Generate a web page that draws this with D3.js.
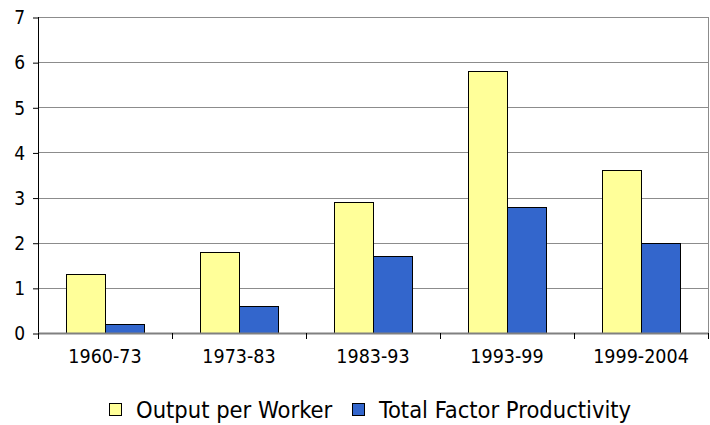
<html>
<head>
<meta charset="utf-8">
<script src="https://d3js.org/d3.v7.min.js"></script>
<style>
  body { margin: 0; background: #fff; }
  text { font-family: "DejaVu Sans Condensed", "DejaVu Sans", sans-serif; fill: #000; }
</style>
</head>
<body>
<div id="chart"></div>
<script>
// data
var periods = ["1960-73", "1973-83", "1983-93", "1993-99", "1999-2004"];
var outputPerWorker = [1.3, 1.8, 2.9, 5.8, 3.6];
var totalFactorProd = [0.2, 0.6, 1.7, 2.8, 2.0];
var seriesNames = ["Output per Worker", "Total Factor Productivity"];
var seriesColors = ["#FFFF99", "#3366CC"];
var yTicks = [0, 1, 2, 3, 4, 5, 6, 7];

var W = 710, H = 425;
var pLeft = 38, pRight = 708, pTop = 17, pBottom = 333;

var svg = d3.select("#chart").append("svg")
  .attr("width", W).attr("height", H);

var x = d3.scaleBand().domain(periods).range([pLeft, pRight]).paddingInner(0).paddingOuter(0);
var xs = d3.scaleBand().domain([0, 1]).range([0, x.bandwidth()]).paddingInner(0).paddingOuter(0.74);
var y = d3.scaleLinear().domain([0, 7]).range([pBottom, pTop]);

// gridlines
svg.append("g").selectAll("line").data(yTicks.filter(function(d){ return d > 0; }))
  .enter().append("line")
  .attr("x1", pLeft).attr("x2", pRight)
  .attr("y1", function(d){ return Math.round(y(d)) + 0.5; }).attr("y2", function(d){ return Math.round(y(d)) + 0.5; })
  .attr("stroke", "#8c8c8c").attr("stroke-width", 1);

// bars
var rows = periods.map(function(p, i){ return { p: p, v: [outputPerWorker[i], totalFactorProd[i]] }; });
var grp = svg.append("g").selectAll("g").data(rows).enter().append("g")
  .attr("transform", function(d){ return "translate(" + x(d.p) + ",0)"; });
grp.selectAll("rect").data(function(d){ return d.v; }).enter().append("rect")
  .attr("x", function(d, j){ return Math.round(xs(j)) + 0.5; })
  .attr("y", function(d){ return Math.round(y(d)) + 0.5; })
  .attr("width", Math.round(xs.bandwidth()))
  .attr("height", function(d){ return pBottom - Math.round(y(d)); })
  .attr("fill", function(d, j){ return seriesColors[j]; })
  .attr("stroke", "#000").attr("stroke-width", 1);

// y axis
var yAxis = svg.append("g").attr("transform", "translate(" + pLeft + ",0)")
  .call(d3.axisLeft(y).tickValues(yTicks).tickSize(5).tickPadding(8).tickFormat(d3.format("d")));
yAxis.select(".domain").attr("d", "M0.5," + pTop + "V" + (pBottom + 6));
yAxis.selectAll(".tick line").attr("transform", "translate(0,0.5)");
yAxis.selectAll("text").style("font-size", "19px").attr("dy", "0.36em");

// x axis
var xAxis = svg.append("g").attr("transform", "translate(0," + pBottom + ")")
  .call(d3.axisBottom(x).tickSize(0).tickPadding(16));
xAxis.select(".domain").attr("stroke", "#808080").attr("stroke-width", 2).attr("d", "M" + pLeft + ",0.5H" + pRight);
xAxis.selectAll("text").style("font-size", "19.5px");
xAxis.append("g").selectAll("line").data(d3.range(periods.length + 1)).enter().append("line")
  .attr("x1", function(i){ return Math.round(pLeft + i * x.step()) + 0.5; })
  .attr("x2", function(i){ return Math.round(pLeft + i * x.step()) + 0.5; })
  .attr("y1", 0).attr("y2", 6).attr("stroke", "#000");

// right edge line
svg.append("line").attr("x1", pRight + 0.5).attr("x2", pRight + 0.5)
  .attr("y1", pTop).attr("y2", pBottom).attr("stroke", "#8c8c8c");

// legend
var legX = [109, 352];
var leg = svg.append("g").selectAll("g").data(seriesNames).enter().append("g")
  .attr("transform", function(d, i){ return "translate(" + legX[i] + ",403)"; });
leg.append("rect").attr("x", 0.5).attr("y", 0.5).attr("width", 12).attr("height", 12)
  .attr("fill", function(d, i){ return seriesColors[i]; })
  .attr("stroke", "#000");
leg.append("text").attr("x", 27).attr("y", 15).style("font-size", "23.5px")
  .text(function(d){ return d; });
</script>
</body>
</html>
